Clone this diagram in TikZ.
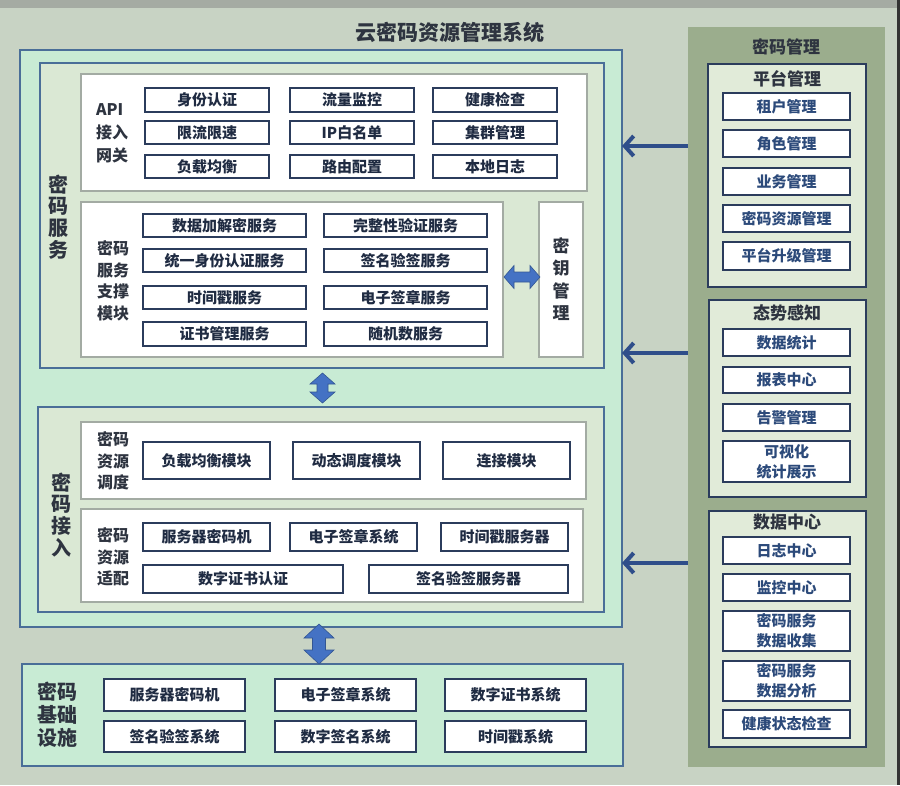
\documentclass[tikz,border=0pt]{standalone}
\usepackage{fontspec}
\setmainfont{Noto Sans CJK SC}
\usetikzlibrary{arrows.meta,calc}
\definecolor{bgc}{HTML}{C8D3C4}
\definecolor{topband}{HTML}{A5ABA3}
\definecolor{mint}{HTML}{C8EBD4}
\definecolor{pale}{HTML}{DAE8D4}
\definecolor{blueline}{HTML}{4A6E98}
\definecolor{panelline}{HTML}{A3ABA3}
\definecolor{navy}{HTML}{2B3C5C}
\definecolor{btntext}{HTML}{1F2B42}
\definecolor{rbtntext}{HTML}{2C4A7A}
\definecolor{sage}{HTML}{9BAD8D}
\definecolor{rgroupfill}{HTML}{E1EBD9}
\definecolor{lbltext}{HTML}{2E3440}
\definecolor{arrowc}{HTML}{2F4E8A}
\definecolor{blockarrow}{HTML}{4472C4}
\newcommand{\mybox}[7]{\node[#1,minimum width={(#5)-(#3)},minimum height={(#6)-(#4)}] (#2) at ({((#3)+(#5))/2},{((#4)+(#6))/2}) {#7};}
% vertical double block arrow: cx, ytop, ybot, half head, half shaft, head length
\newcommand{\vdblarrow}[6]{\filldraw[blockarr] (#1,#2) -- ({#1+#4},{#2+#6}) -- ({#1+#5},{#2+#6}) -- ({#1+#5},{#3-#6}) -- ({#1+#4},{#3-#6}) -- (#1,#3) -- ({#1-#4},{#3-#6}) -- ({#1-#5},{#3-#6}) -- ({#1-#5},{#2+#6}) -- ({#1-#4},{#2+#6}) -- cycle;}
% horizontal double block arrow: cy, xleft, xright, half head, half shaft, head length
\newcommand{\hdblarrow}[6]{\filldraw[blockarr] (#2,#1) -- ({#2+#6},{#1-#4}) -- ({#2+#6},{#1-#5}) -- ({#3-#6},{#1-#5}) -- ({#3-#6},{#1-#4}) -- (#3,#1) -- ({#3-#6},{#1+#4}) -- ({#3-#6},{#1+#5}) -- ({#2+#6},{#1+#5}) -- ({#2+#6},{#1+#4}) -- cycle;}
\tikzset{
  base/.style={rectangle,inner sep=0pt,outer sep=0pt},
  bigbox/.style={base,draw=blueline,fill=mint,line width=1.6pt},
  innerbox/.style={base,draw=blueline,fill=pale,line width=1.6pt},
  panel/.style={base,draw=panelline,fill=white,line width=1.3pt},
  btn/.style={base,draw=navy,fill=white,line width=1.6pt,text=btntext,align=center,font=\fontsize{15}{19}\selectfont\bfseries},
  rbtn/.style={base,draw=navy,fill=white,line width=1.6pt,text=rbtntext,align=center,font=\fontsize{15}{20}\selectfont\bfseries},
  rgroup/.style={base,draw=navy,fill=rgroupfill,line width=1.5pt},
  sagepanel/.style={base,fill=sage},
  lbl/.style={inner sep=0pt,text=lbltext,align=center,font=\fontsize{16}{21.5}\selectfont\bfseries},
  vlbl/.style={inner sep=0pt,text=lbltext,align=center,font=\fontsize{20}{21.7}\selectfont\bfseries},
  glbl/.style={inner sep=0pt,text=lbltext,font=\fontsize{17}{20}\selectfont\bfseries},
  garrow/.style={draw=arrowc,line width=4pt,-{Straight Barb[length=9pt,width=20pt]}},
  blockarr/.style={fill=blockarrow,draw=blockarrow!75!black,line width=0.6pt,line join=miter}
}
\begin{document}
\begin{tikzpicture}[x=1pt,y=-1pt]
\useasboundingbox (0,0) rectangle (900,785);
\fill[bgc] (0,0) rectangle (900,785);
\fill[topband] (0,0) rectangle (900,8);
\fill[black!80] (897,0) rectangle (900,785);

\node[inner sep=0pt,text=lbltext,font=\fontsize{21}{24}\selectfont\bfseries] (title) at (450,32) {云密码资源管理系统};

% ---------- left big box ----------
\mybox{bigbox}{big}{20}{50}{622}{627}{}
\mybox{innerbox}{svc}{40}{63}{604}{368}{}
\mybox{innerbox}{acc}{38}{407}{604}{612}{}

\node[vlbl] (svclbl) at (58,217) {密\\码\\服\\务};
\node[vlbl] (acclbl) at (61,515) {密\\码\\接\\入};

% API gateway
\mybox{panel}{api}{81}{74}{587}{191}{}
\node[lbl,align=left,font=\fontsize{16}{23}\selectfont\bfseries] (apilbl) at (112,133) {API\\接入\\网关};
\mybox{btn}{b11}{145}{88}{269}{112}{身份认证}
\mybox{btn}{b12}{290}{88}{414}{112}{流量监控}
\mybox{btn}{b13}{433}{88}{557}{112}{健康检查}
\mybox{btn}{b21}{145}{121}{269}{144}{限流限速}
\mybox{btn}{b22}{290}{121}{414}{144}{IP白名单}
\mybox{btn}{b23}{433}{121}{557}{144}{集群管理}
\mybox{btn}{b31}{145}{155}{269}{178}{负载均衡}
\mybox{btn}{b32}{290}{155}{414}{178}{路由配置}
\mybox{btn}{b33}{433}{155}{557}{178}{本地日志}

% support module
\mybox{panel}{sup}{81}{202}{503}{357}{}
\node[lbl] (suplbl) at (113,281) {密码\\服务\\支撑\\模块};
\mybox{btn}{s11}{143}{214}{306}{237}{数据加解密服务}
\mybox{btn}{s12}{324}{214}{487}{237}{完整性验证服务}
\mybox{btn}{s21}{143}{249}{306}{272}{统一身份认证服务}
\mybox{btn}{s22}{324}{249}{487}{272}{签名验签服务}
\mybox{btn}{s31}{143}{286}{306}{309}{时间戳服务}
\mybox{btn}{s32}{324}{286}{487}{309}{电子签章服务}
\mybox{btn}{s41}{143}{322}{306}{346}{证书管理服务}
\mybox{btn}{s42}{324}{322}{487}{346}{随机数服务}

% key management
\mybox{panel}{key}{539}{202}{583}{357}{}
\node[lbl,font=\fontsize{17}{22.3}\selectfont\bfseries] (keylbl) at (561,279) {密\\钥\\管\\理};
\hdblarrow{277}{504}{540}{11.5}{5}{10}

% svc <-> acc
\vdblarrow{322.5}{373}{403}{12.5}{5.5}{11}

% scheduling
\mybox{panel}{sched}{81}{422}{586}{499}{}
\node[lbl] (schedlbl) at (113,461) {密码\\资源\\调度};
\mybox{btn}{d1}{143}{442}{270}{479}{负载均衡模块}
\mybox{btn}{d2}{293}{442}{420}{479}{动态调度模块}
\mybox{btn}{d3}{443}{442}{570}{479}{连接模块}

% adaptation
\mybox{panel}{adapt}{81}{509}{583}{602}{}
\node[lbl] (adaptlbl) at (113,557) {密码\\资源\\适配};
\mybox{btn}{a1}{143}{523}{270}{551}{服务器密码机}
\mybox{btn}{a2}{290}{523}{417}{551}{电子签章系统}
\mybox{btn}{a3}{441}{523}{568}{551}{时间戳服务器}
\mybox{btn}{a4}{143}{565}{343}{593}{数字证书认证}
\mybox{btn}{a5}{369}{565}{568}{593}{签名验签服务器}

% infrastructure
\mybox{bigbox}{infra}{22}{664}{623}{766}{}
\node[lbl,font=\fontsize{20}{23}\selectfont\bfseries] (infralbl) at (57,715) {密码\\基础\\设施};
\mybox{btn}{i1}{104}{679}{245}{711}{服务器密码机}
\mybox{btn}{i2}{275}{679}{416}{711}{电子签章系统}
\mybox{btn}{i3}{445}{679}{586}{711}{数字证书系统}
\mybox{btn}{i4}{104}{721}{245}{752}{签名验签系统}
\mybox{btn}{i5}{275}{721}{416}{752}{数字签名系统}
\mybox{btn}{i6}{445}{721}{586}{752}{时间戳系统}

\vdblarrow{319}{624}{664}{15}{6.5}{14}

% ---------- right management ----------
\mybox{sagepanel}{mgmt}{688}{27}{885}{767}{}
\node[glbl] (mgmtlbl) at (786,47) {密码管理};

\mybox{rgroup}{plat}{708}{64}{866}{287}{}
\node[glbl] (platlbl) at (787,79) {平台管理};
\mybox{rbtn}{p1}{723}{93}{850}{120}{租户管理}
\mybox{rbtn}{p2}{723}{130}{850}{157}{角色管理}
\mybox{rbtn}{p3}{723}{168}{850}{195}{业务管理}
\mybox{rbtn}{p4}{723}{205}{850}{232}{密码资源管理}
\mybox{rbtn}{p5}{723}{242}{850}{270}{平台升级管理}

\mybox{rgroup}{sit}{709}{300}{866}{497}{}
\node[glbl] (sitlbl) at (787,313) {态势感知};
\mybox{rbtn}{t1}{723}{329}{850}{356}{数据统计}
\mybox{rbtn}{t2}{723}{367}{850}{393}{报表中心}
\mybox{rbtn}{t3}{723}{404}{850}{431}{告警管理}
\mybox{rbtn}{t4}{723}{441}{850}{482}{可视化\\统计展示}

\mybox{rgroup}{dc}{709}{511}{866}{747}{}
\node[glbl] (dclbl) at (787,522) {数据中心};
\mybox{rbtn}{c1}{723}{537}{850}{564}{日志中心}
\mybox{rbtn}{c2}{723}{574}{850}{601}{监控中心}
\mybox{rbtn}{c3}{723}{611}{850}{651}{密码服务\\数据收集}
\mybox{rbtn}{c4}{723}{661}{850}{701}{密码服务\\数据分析}
\mybox{rbtn}{c5}{723}{710}{850}{738}{健康状态检查}

% arrows from management to main box
\coordinate (y1) at (0,146);
\coordinate (y2) at (0,353);
\coordinate (y3) at (0,563);
\draw[garrow] (mgmt.west |- y1) -- (big.east |- y1);
\draw[garrow] (mgmt.west |- y2) -- (big.east |- y2);
\draw[garrow] (mgmt.west |- y3) -- (big.east |- y3);
\end{tikzpicture}
\end{document}
